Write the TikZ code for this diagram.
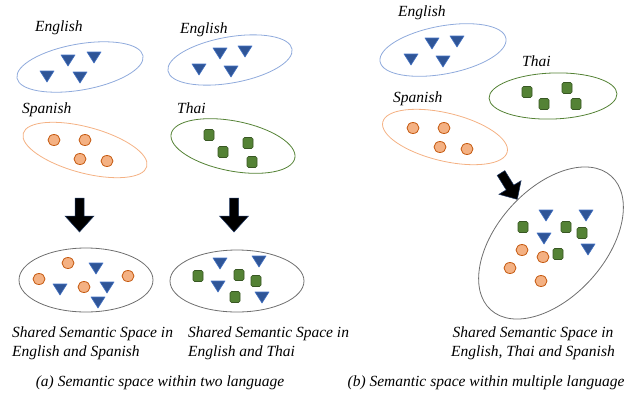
\documentclass[tikz,border=0pt]{standalone}
\usepackage{fontspec}
\setmainfont{Liberation Serif}
\definecolor{ellblue}{HTML}{8FAADC}
\definecolor{ellorange}{HTML}{F4B183}
\definecolor{ellgreen}{HTML}{548235}
\definecolor{ellgray}{HTML}{6E6E6E}
\definecolor{trifill}{HTML}{2F5597}
\definecolor{tridraw}{HTML}{4472C4}
\definecolor{cirfill}{HTML}{F4B183}
\definecolor{cirdraw}{HTML}{C55A11}
\definecolor{sqfill}{HTML}{548235}
\definecolor{sqdraw}{HTML}{385723}
\definecolor{arrdraw}{HTML}{1F3864}
\tikzset{
  tri/.pic={\filldraw[fill=trifill,draw=tridraw,line width=0.6pt,line join=round] (-7,-5) -- (7,-5) -- (0,6) -- cycle;},
  cir/.pic={\filldraw[fill=cirfill,draw=cirdraw,line width=0.8pt] (0,0) ellipse [x radius=6,y radius=5.5];},
  sq/.pic={\filldraw[fill=sqfill,draw=sqdraw,line width=0.6pt,rounded corners=1.5pt] (-5,-5.5) rectangle (5,5.5);},
  lbl/.style={font=\fontsize{15.5}{19}\selectfont\itshape,inner sep=0pt},
  ell/.style={line width=0.8pt},
  blockarrow/.style={fill=black,draw=arrdraw,line width=0.5pt,line join=miter}
}
\newcommand\downarrowat[1]{\filldraw[blockarrow] (#1-4.5,198) -- (#1+4.5,198) -- (#1+4.5,216) -- (#1+14.5,216) -- (#1,232) -- (#1-14.5,216) -- (#1-4.5,216) -- cycle;}
\begin{document}
\begin{tikzpicture}[x=1pt,y=-1pt]
\useasboundingbox (0,0) rectangle (637,394);
% ---------- (a) left column ----------
\node[lbl,anchor=west] (lE1) at (35,28) {English};
\draw[ell,ellblue,rotate around={10:(80,67)}] (80,67) ellipse [x radius=64,y radius=23];
\pic at (68,60) {tri}; \pic at (94,57) {tri}; \pic at (47,76) {tri}; \pic at (80,77) {tri};
\node[lbl,anchor=west] (lS1) at (22,110) {Spanish};
\draw[ell,ellorange,rotate around={-15:(85,150)}] (85,150) ellipse [x radius=64,y radius=23];
\pic at (54,140) {cir}; \pic at (85,140) {cir}; \pic at (80,159) {cir}; \pic at (107,161) {cir};
\downarrowat{79.5}
\draw[ell,ellgray] (86,280) ellipse [x radius=67,y radius=32];
\pic at (68,263) {cir}; \pic at (39,279) {cir}; \pic at (84,287) {cir}; \pic at (128,276) {cir};
\pic at (96,268) {tri}; \pic at (60,289) {tri}; \pic at (107,287) {tri}; \pic at (98,302) {tri};
\node[lbl,anchor=west,align=left] (s1) at (12,343.5) {Shared Semantic Space in\\English and Spanish};
% ---------- (a) right column ----------
\node[lbl,anchor=west] (lE2) at (180,30) {English};
\draw[ell,ellblue,rotate around={10:(230,60)}] (230,60) ellipse [x radius=63,y radius=23];
\pic at (220,53) {tri}; \pic at (245,51) {tri}; \pic at (199,69) {tri}; \pic at (231,71) {tri};
\node[lbl,anchor=west] (lT1) at (177,108) {Thai};
\draw[ell,ellgreen,rotate around={-11:(233,146)}] (233,146) ellipse [x radius=63,y radius=25];
\pic at (209,135) {sq}; \pic at (248,143) {sq}; \pic at (223,152) {sq}; \pic at (252,162) {sq};
\downarrowat{234}
\draw[ell,ellgray] (237,281) ellipse [x radius=67,y radius=31];
\pic at (198,276) {sq}; \pic at (239,275) {sq}; \pic at (256,281) {sq}; \pic at (235,297) {sq};
\pic at (220,263) {tri}; \pic at (259,261) {tri}; \pic at (218,286) {tri}; \pic at (262,297) {tri};
\node[lbl,anchor=west,align=left] (s2) at (188,343.5) {Shared Semantic Space in\\English and Thai};
\node[lbl] (capa) at (160,383) {(a) Semantic space within two language};
% ---------- (b) ----------
\node[lbl,anchor=west] (lE3) at (398,13) {English};
\draw[ell,ellblue,rotate around={10.5:(443,50)}] (443,50) ellipse [x radius=64,y radius=24];
\pic at (432,43) {tri}; \pic at (457,41) {tri}; \pic at (411,59) {tri}; \pic at (443,61) {tri};
\node[lbl,anchor=west] (lT3) at (522,61) {Thai};
\draw[ell,ellgreen,rotate around={2:(553,96)}] (553,96) ellipse [x radius=64,y radius=23];
\pic at (527,92) {sq}; \pic at (567,88) {sq}; \pic at (544,104) {sq}; \pic at (576,104) {sq};
\node[lbl,anchor=west] (lS3) at (393,99) {Spanish};
\draw[ell,ellorange,rotate around={-13.5:(445,137)}] (445,137) ellipse [x radius=64,y radius=24];
\pic at (413,128) {cir}; \pic at (444,128) {cir}; \pic at (440,147) {cir}; \pic at (467,149) {cir};
\filldraw[blockarrow] (504.8,170.6) -- (497.2,175.4) -- (506.2,189.9) -- (498.9,194.3) -- (517.3,199.4) -- (521.1,180.7) -- (513.8,185.1) -- cycle;
\draw[ell,ellgray,rotate around={48:(551,243)}] (551,243) ellipse [x radius=90,y radius=54];
\pic at (523,227) {sq}; \pic at (566,227) {sq}; \pic at (582,233) {sq}; \pic at (558,254) {sq};
\pic at (546,215) {tri}; \pic at (586,215) {tri}; \pic at (544,238) {tri}; \pic at (588,249) {tri};
\pic at (522,250) {cir}; \pic at (543,257) {cir}; \pic at (510,268) {cir}; \pic at (541,281) {cir};
\node[lbl,align=center] (s3) at (533,343.5) {Shared Semantic Space in\\English, Thai and Spanish};
\node[lbl] (capb) at (486,383) {(b) Semantic space within multiple language};
\end{tikzpicture}
\end{document}
